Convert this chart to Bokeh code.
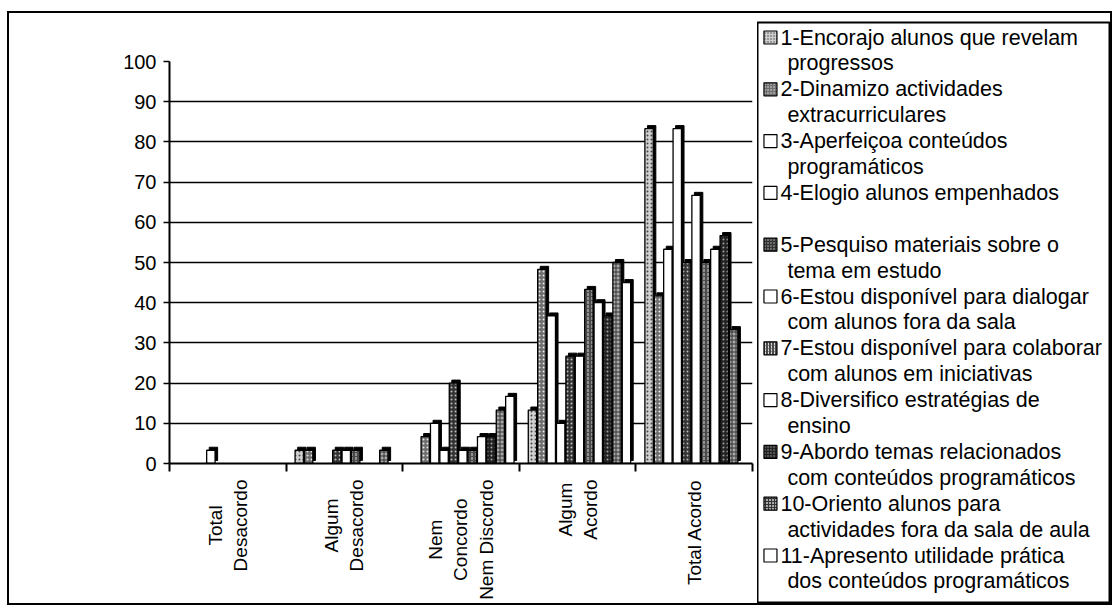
import math
from bokeh.plotting import figure
from bokeh.models import Range1d, FixedTicker, ColumnDataSource, Spacer, Text
from bokeh.layouts import row, column
from bokeh.transform import dodge
from bokeh.core.properties import value
from bokeh.embed import file_html
from bokeh.resources import INLINE

# ---------------- data ----------------
categories = ["Total\nDesacordo", "Algum\nDesacordo", "Nem\nConcordo\nNem Discordo",
              "Algum\nAcordo", "Total Acordo"]

s1 = [0, 3.3, 0, 13.3, 83.3]
s2 = [0, 3.3, 6.7, 48.3, 41.7]
s3 = [0, 0, 10, 36.7, 53.3]
s4 = [3.3, 0, 3.3, 10, 83.3]
s5 = [0, 3.3, 20, 26.7, 50]
s6 = [0, 3.3, 3.3, 26.7, 66.7]
s7 = [0, 3.3, 3.3, 43.3, 50]
s8 = [0, 0, 6.7, 40, 53.3]
s9 = [0, 0, 6.7, 36.7, 56.7]
s10 = [0, 3.3, 13.3, 50, 33.3]
s11 = [0, 0, 16.7, 45, 0]

series_values = [s1, s2, s3, s4, s5, s6, s7, s8, s9, s10, s11]

series_names = [
    "1-Encorajo alunos que revelam\nprogressos",
    "2-Dinamizo actividades\nextracurriculares",
    "3-Aperfeiçoa conteúdos\nprogramáticos",
    "4-Elogio alunos empenhados\n",
    "5-Pesquiso materiais sobre o\ntema em estudo",
    "6-Estou disponível para dialogar\ncom alunos fora da sala",
    "7-Estou disponível para colaborar\ncom alunos em iniciativas",
    "8-Diversifico estratégias de\nensino",
    "9-Abordo temas relacionados\ncom conteúdos programáticos",
    "10-Oriento alunos para\nactividades fora da sala de aula",
    "11-Apresento utilidade prática\ndos conteúdos programáticos",
]

y_ticks = [0, 10, 20, 30, 40, 50, 60, 70, 80, 90, 100]

# ---------------- styles ----------------
FONT = "Liberation Sans"
W = dict(fill="white", hatch=None, hcol="black")
series_styles = [
    dict(fill="#cfcfcf", hatch=".", hcol="#444444"),
    dict(fill="#6e6e6e", hatch=".", hcol="#e8e8e8"),
    W,
    W,
    dict(fill="#333333", hatch=".", hcol="#bdbdbd"),
    W,
    dict(fill="#4a4a4a", hatch=":", hcol="#d8d8d8"),
    W,
    dict(fill="#222222", hatch=".", hcol="#a0a0a0"),
    dict(fill="#a8a8a8", hatch="+", hcol="#333333"),
    W,
]

SLOT = 0.0806
BAR_W = 0.072
FIRST = -0.387
DEPTH = 0.75
SIDE = 0.022

H_TOTAL = 590
P_W = 748
P_TOP, P_FRAME, P_BOT = 48, 402, 12
P_H = P_TOP + P_FRAME + P_BOT
R_H = H_TOTAL - P_H

# ---------------- main chart ----------------
p = figure(width=P_W, height=P_H, x_range=Range1d(0, len(categories)), y_range=Range1d(0, 100),
           output_backend="svg", toolbar_location=None,
           min_border_left=160, min_border_right=5, min_border_top=P_TOP, min_border_bottom=P_BOT)
p.frame_align = False
p.outline_line_color = None
p.background_fill_color = "white"
p.border_fill_color = "white"

p.xgrid.visible = False
p.ygrid.grid_line_color = "black"
p.ygrid.grid_line_width = 1.6
p.ygrid.ticker = FixedTicker(ticks=y_ticks)

p.yaxis.ticker = FixedTicker(ticks=y_ticks)
p.yaxis.major_label_text_font = FONT
p.yaxis.major_label_text_font_size = "20px"
p.yaxis.major_label_text_color = "black"
p.yaxis.major_tick_out = 6
p.yaxis.major_tick_in = 0
p.yaxis.major_tick_line_width = 1.5
p.yaxis.minor_tick_out = 0
p.yaxis.minor_tick_in = 0
p.yaxis.axis_line_width = 2
p.yaxis.major_label_standoff = 7

centers = [i + 0.5 for i in range(len(categories))]
p.xaxis.ticker = FixedTicker(ticks=centers, minor_ticks=list(range(len(categories) + 1)))
p.xaxis.major_label_overrides = {c: "" for c in centers}
p.xaxis.major_label_text_font_size = "1px"
p.xaxis.major_label_standoff = 0
p.xaxis.major_tick_out = 0
p.xaxis.major_tick_in = 0
p.xaxis.minor_tick_out = 8
p.xaxis.minor_tick_in = 0
p.xaxis.minor_tick_line_width = 2
p.xaxis.axis_line_width = 2

for j, vals in enumerate(series_values):
    st = series_styles[j]
    cx = [centers[i] for i, v in enumerate(vals) if v > 0]
    vv = [v for v in vals if v > 0]
    src = ColumnDataSource(dict(cx=cx, v=vv, v3=[v + DEPTH for v in vv]))
    off = FIRST + SLOT * j
    p.vbar(x=dodge("cx", off + SIDE), bottom=DEPTH, top="v3", width=BAR_W, source=src,
           fill_color="black", line_color="black", line_width=1)
    kw = dict(fill_color=st["fill"], line_color="black", line_width=1.3)
    if st["hatch"]:
        kw.update(hatch_pattern=st["hatch"], hatch_color=st["hcol"], hatch_scale=4, hatch_weight=1)
    p.vbar(x=dodge("cx", off), bottom=0, top="v", width=BAR_W, source=src, **kw)

# ---------------- category label strip ----------------
r = figure(width=P_W, height=R_H, x_range=p.x_range, y_range=Range1d(0, R_H),
           output_backend="svg", toolbar_location=None,
           min_border_left=160, min_border_right=5, min_border_top=0, min_border_bottom=0)
r.frame_align = False
r.axis.visible = False
r.grid.visible = False
r.outline_line_color = None
r.background_fill_color = "white"
r.border_fill_color = "white"

lab_src = ColumnDataSource(dict(x=centers, text=categories))
tkw = dict(x="x", y=R_H - 4, text="text", angle=math.pi / 2, text_font=value(FONT),
           text_font_size="19px", text_color="black", text_baseline="middle")
if "anchor" in Text.properties():
    tkw.update(text_align="center", anchor="center_right")
else:
    tkw.update(text_align="right")
r.text(source=lab_src, **tkw)

# ---------------- legend panel ----------------
Q_W = 353
QB_TOP, QB_BOT = 9, 1
q = figure(width=Q_W, height=H_TOTAL, x_range=Range1d(0, Q_W), y_range=Range1d(H_TOTAL - QB_TOP - QB_BOT, 0),
           output_backend="svg", toolbar_location=None,
           min_border_left=0, min_border_right=1, min_border_top=QB_TOP, min_border_bottom=QB_BOT)
q.frame_align = False
q.axis.visible = False
q.grid.visible = False
q.outline_line_color = "black"
q.outline_line_width = 2
q.background_fill_color = "white"
q.border_fill_color = "white"

LINE_H = 25.9
Y0 = 15
for k, name in enumerate(series_names):
    st = series_styles[k]
    lines = name.split("\n")
    ys = [Y0 + LINE_H * (2 * k + m) for m in range(len(lines))]
    xs = [23 if m == 0 else 30 for m in range(len(lines))]
    q.text(x=xs, y=ys, text=lines, text_font=value(FONT), text_font_size="21.5px",
           text_baseline="middle", text_align="left", text_color="black")
    kw = dict(fill_color=st["fill"], line_color="black", line_width=1.2)
    if st["hatch"]:
        kw.update(hatch_pattern=st["hatch"], hatch_color=st["hcol"], hatch_scale=3, hatch_weight=1)
    q.rect(x=[13], y=[ys[0]], width=13, height=13, width_units="screen", height_units="screen", **kw)

inner = row(column(p, r), q, styles={"border": "2px solid black"})
layout = column(Spacer(width=10, height=11), row(Spacer(width=7, height=10), inner))

open("out.html", "w").write(file_html(layout, INLINE))
